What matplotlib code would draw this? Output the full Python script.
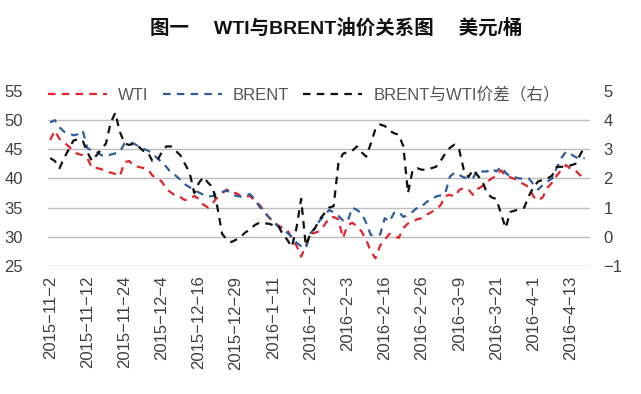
import matplotlib
matplotlib.use("Agg")
import matplotlib.pyplot as plt
from matplotlib.lines import Line2D

plt.rcParams["font.family"] = ["Liberation Sans", "Noto Sans CJK SC", "DejaVu Sans"]
plt.rcParams["axes.unicode_minus"] = True

# x tick labels every 8 trading days
date_labels = ["2015-11-2", "2015-11-12", "2015-11-24", "2015-12-4", "2015-12-16",
               "2015-12-29", "2016-1-11", "2016-1-22", "2016-2-3", "2016-2-16",
               "2016-2-26", "2016-3-9", "2016-3-21", "2016-4-1", "2016-4-13"]

wti = [46.6, 48.2, 46.8, 46.2, 45.5, 44.6, 44.2, 44.0, 43.5, 41.8,
       41.8, 41.6, 41.2, 41.0, 40.8, 40.4, 42.8, 43.0, 42.2, 42.0,
       41.8, 41.6, 40.5, 40.0, 39.5, 38.2, 37.6, 37.0, 36.8, 36.3,
       36.4, 37.0, 36.5, 35.5, 35.0, 35.8, 36.8, 37.5, 38.1, 37.6,
       37.5, 37.0, 36.9, 37.0, 36.2, 35.5, 34.5, 33.4, 32.6, 32.0,
       31.5, 31.2, 29.8, 28.5, 26.6, 28.5, 30.5, 30.7, 31.0, 32.0,
       33.2, 33.4, 33.0, 29.8, 32.0, 32.4, 31.8, 30.9, 29.5, 27.5,
       26.3, 28.5, 29.5, 30.5, 30.2, 29.8, 31.5, 32.3, 32.6, 33.0,
       33.2, 33.8, 34.2, 34.8, 35.4, 37.0, 37.2, 36.9, 38.0, 38.4,
       38.1, 37.2, 38.2, 38.7, 39.4, 40.0, 40.5, 41.4, 40.4, 40.2,
       39.9, 39.4, 39.0, 38.5, 36.9, 36.2, 36.8, 38.4, 39.3, 40.5,
       41.5, 42.3, 41.6, 41.4, 40.6, 40.1]

brent = [49.6, 50.0, 48.8, 48.0, 47.8, 47.4, 47.6, 48.2, 45.2, 44.8,
         44.6, 44.0, 43.8, 44.1, 44.3, 44.6, 46.0, 46.2, 46.0, 45.5,
         45.1, 44.8, 44.3, 43.5, 42.8, 42.0, 41.0, 40.5, 39.8, 39.0,
         38.5, 38.0, 37.6, 37.2, 36.9, 37.0, 37.5, 37.7, 37.9, 37.6,
         37.0, 36.9, 37.2, 37.3, 36.5, 35.2, 34.3, 33.4, 32.6, 31.8,
         31.3, 30.7, 30.0, 29.0, 28.4, 28.0, 30.6, 31.5, 32.8, 33.6,
         34.6, 34.2, 33.6, 32.8, 32.6, 35.0, 34.6, 34.0, 32.4, 30.3,
         30.3, 30.4, 33.2, 32.6, 34.1, 34.3, 33.4, 33.8, 34.3, 35.0,
         35.2, 36.0, 36.3, 36.9, 37.1, 37.4, 40.3, 41.0, 40.6, 40.2,
         40.0, 40.1, 41.5, 41.2, 41.2, 41.7, 41.2, 42.0, 41.0, 40.3,
         40.2, 40.0, 40.0, 40.0, 39.0, 38.1, 38.9, 39.5, 40.0, 41.8,
         43.5, 44.6, 44.2, 43.7, 43.3, 43.5]

spread = [2.7, 2.6, 2.35, 2.7, 3.0, 3.3, 3.35, 3.3, 2.9, 2.6,
          2.8, 3.0, 3.2, 3.9, 4.25, 3.6, 3.2, 3.15, 3.2, 3.1,
          2.95, 2.9, 2.6, 2.6, 2.9, 3.1, 3.1, 2.95, 2.8, 2.5,
          2.2, 1.5, 1.85, 2.05, 1.85, 1.7, 1.0, 0.1, -0.1, -0.18,
          -0.1, 0.0, 0.15, 0.25, 0.4, 0.48, 0.46, 0.45, 0.4, 0.4,
          0.1, -0.1, -0.35, 0.3, 1.3, -0.3, 0.1, 0.3, 0.6, 0.8,
          1.0, 1.05, 2.5, 2.85, 2.9, 2.95, 3.1, 2.9, 2.75, 3.2,
          3.7, 3.85, 3.8, 3.65, 3.55, 3.5, 3.1, 1.5, 2.3, 2.35,
          2.3, 2.3, 2.35, 2.4, 2.6, 2.85, 3.05, 3.16, 3.0, 2.3,
          2.05, 2.3, 2.1, 1.9, 1.5, 1.35, 1.3, 0.8, 0.3, 0.85,
          0.9, 0.95, 1.0, 1.4, 1.7, 1.9, 1.95, 2.0, 2.1, 2.4,
          2.4, 2.4, 2.45, 2.5, 2.8, 3.1]

left_ticks = [25, 30, 35, 40, 45, 50, 55]
right_ticks = [-1, 0, 1, 2, 3, 4, 5]

RED = "#e3242b"
BLUE = "#2f5d9b"
BLACK = "#111111"
GRID = "#bdbdbd"
TXT = "#404040"

fig = plt.figure(figsize=(6.41, 3.94), dpi=100)
ax = fig.add_axes([0.075, 0.325, 0.845, 0.444])
ax2 = ax.twinx()

x = list(range(len(wti)))
dash = (0, (3.4, 2.8))
ax.plot(x, wti, color=RED, lw=1.6, linestyle=dash)
ax.plot(x, brent, color=BLUE, lw=1.6, linestyle=dash)
ax2.plot(x, spread, color=BLACK, lw=1.6, linestyle=dash)

for v in left_ticks[:-1]:
    ax.axhline(v, color=GRID, lw=1.0, zorder=0)

ax.set_xlim(-0.45, 116.1)
ax.set_ylim(25, 55)
ax2.set_ylim(-1, 5)
ax.set_yticks(left_ticks)
ax2.set_yticks(right_ticks)
ax.set_yticklabels([str(t) for t in left_ticks])
ax2.set_yticklabels([str(t).replace("-", "\u2212") for t in right_ticks])
ax.set_xticks(range(0, 8 * len(date_labels), 8))
ax.set_xticklabels([d.replace("-", "\u2212") for d in date_labels], rotation=90)

for a in (ax, ax2):
    for s in a.spines.values():
        s.set_visible(False)
    a.tick_params(length=0, labelsize=12, colors=TXT)
ax.tick_params(axis="y", pad=18)
ax2.tick_params(axis="y", pad=10)
ax.tick_params(axis="x", labelsize=12, pad=7)

handles = [Line2D([], [], color=RED, lw=1.6, linestyle=dash),
           Line2D([], [], color=BLUE, lw=1.6, linestyle=dash),
           Line2D([], [], color=BLACK, lw=1.6, linestyle=dash)]
leg = ax.legend(handles, ["WTI", "BRENT", "BRENT与WTI价差（右）"], ncol=3,
                loc="upper left", bbox_to_anchor=(0.0, 1.025), frameon=False,
                borderpad=0, borderaxespad=0,
                handlelength=3.55, handletextpad=0.65, columnspacing=0.85,
                fontsize=12, labelcolor="#555555")

fig.text(0.525, 0.928, "图一\u3000 WTI与BRENT油价关系图\u3000 美元/桶", ha="center",
         va="center", fontsize=14, fontweight="bold", color="#111111")

fig.savefig("out.png", dpi=100)
